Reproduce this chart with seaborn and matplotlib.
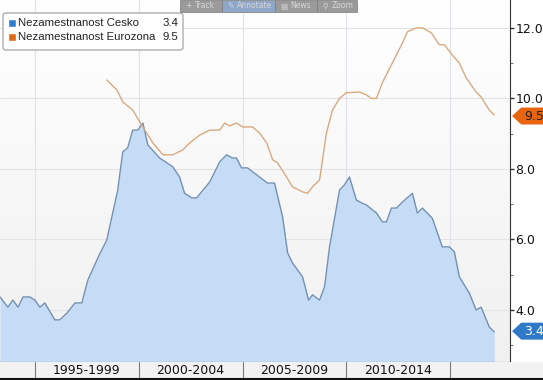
import numpy as np
import pandas as pd
import matplotlib
matplotlib.use('Agg')
import matplotlib.pyplot as plt
import seaborn as sns
from matplotlib.patches import Polygon, Rectangle, FancyBboxPatch
from matplotlib.colors import LinearSegmentedColormap
from matplotlib.transforms import blended_transform_factory

# Nezamestnanost Cesko (unemployment, %)
cz_year = [1993.32, 1993.70, 1993.94, 1994.19, 1994.43, 1994.76, 1995.00, 1995.24, 1995.48,
           1995.96, 1996.20, 1996.54, 1996.93, 1997.26, 1997.55, 1998.13, 1998.46, 1998.99,
           1999.23, 1999.47, 1999.71, 1999.95, 2000.20, 2000.44, 2001.01, 2001.64, 2001.97,
           2002.21, 2002.55, 2002.79, 2003.42, 2003.90, 2004.23, 2004.52, 2004.71, 2004.95,
           2005.24, 2005.82, 2006.20, 2006.54, 2006.93, 2007.17, 2007.41, 2007.89, 2008.18,
           2008.37, 2008.71, 2008.95, 2009.19, 2009.67, 2009.91, 2010.15, 2010.48, 2010.72,
           2010.96, 2011.45, 2011.73, 2011.93, 2012.17, 2012.41, 2012.70, 2013.18, 2013.42,
           2013.66, 2014.14, 2014.62, 2014.96, 2015.20, 2015.44, 2015.92, 2016.25, 2016.49,
           2016.88, 2017.12]
cz_value = [4.37, 4.08, 4.28, 4.08, 4.37, 4.37, 4.28, 4.08, 4.20,
            3.72, 3.72, 3.91, 4.20, 4.20, 4.85, 5.60, 5.98, 7.40,
            8.48, 8.60, 9.10, 9.10, 9.30, 8.68, 8.31, 8.06, 7.77,
            7.31, 7.18, 7.18, 7.63, 8.20, 8.40, 8.31, 8.31, 8.03,
            8.03, 7.77, 7.60, 7.60, 6.64, 5.62, 5.33, 4.94, 4.28,
            4.43, 4.28, 4.66, 5.79, 7.40, 7.55, 7.77, 7.12, 7.04,
            6.98, 6.75, 6.50, 6.50, 6.89, 6.89, 7.06, 7.31, 6.75,
            6.89, 6.60, 5.79, 5.79, 5.65, 4.94, 4.48, 4.00, 4.08,
            3.52, 3.38]

# Nezamestnanost Eurozona (unemployment, %)
ez_year = [1998.46, 1998.95, 1999.23, 1999.71, 2000.05, 2000.68, 2001.16, 2001.64, 2002.12,
           2002.46, 2002.94, 2003.42, 2003.90, 2004.14, 2004.38, 2004.71, 2005.00, 2005.48,
           2005.82, 2005.96, 2006.16, 2006.45, 2006.69, 2007.12, 2007.41, 2007.89, 2008.13,
           2008.37, 2008.71, 2009.04, 2009.33, 2009.67, 2010.00, 2010.63, 2010.96, 2011.20,
           2011.45, 2011.73, 2012.21, 2012.70, 2012.94, 2013.37, 2013.66, 2014.09, 2014.48,
           2014.72, 2015.10, 2015.44, 2015.77, 2016.25, 2016.49, 2016.88, 2017.12]
ez_value = [10.52, 10.24, 9.90, 9.67, 9.33, 8.74, 8.40, 8.40, 8.54,
            8.74, 8.96, 9.10, 9.10, 9.30, 9.22, 9.30, 9.19, 9.19,
            9.02, 8.90, 8.74, 8.26, 8.17, 7.77, 7.49, 7.35, 7.31,
            7.49, 7.69, 9.02, 9.67, 10.00, 10.16, 10.18, 10.10, 10.00,
            10.00, 10.44, 11.00, 11.57, 11.89, 12.00, 12.00, 11.86, 11.52,
            11.52, 11.23, 11.00, 10.58, 10.18, 10.04, 9.67, 9.53]

period_labels = ['1995-1999', '2000-2004', '2005-2009', '2010-2014']
period_starts = [1995, 2000, 2005, 2010, 2015]
y_ticks = [4.0, 6.0, 8.0, 10.0, 12.0]
last_cz = 3.4
last_ez = 9.5

df_cz = pd.DataFrame({'year': cz_year, 'value': cz_value})
df_ez = pd.DataFrame({'year': ez_year, 'value': ez_value})

sns.set_style('white')
plt.rcParams['font.family'] = ['DejaVu Sans']

fig = plt.figure(figsize=(5.43, 3.80), dpi=100)
ax = fig.add_axes([0, 18 / 380, 510 / 543, 362 / 380])

x0, x1 = 1993.32, 2017.88
y0, y1 = 2.525, 12.79
ax.set_xlim(x0, x1)
ax.set_ylim(y0, y1)

# soft background gradient: white at the top, light grey at the bottom
grad = np.linspace(0, 1, 256).reshape(-1, 1)
bg_cmap = LinearSegmentedColormap.from_list('bg', ['#f0f0f0', '#ffffff'])
ax.imshow(grad, extent=[0, 1, 0, 1], origin='lower', transform=ax.transAxes, aspect='auto',
          cmap=bg_cmap, zorder=0)

for v in y_ticks:
    ax.axhline(v, color='#e4e4e4', lw=0.8, zorder=1)
for s in period_starts:
    ax.axvline(s, color='#e0e4ea', lw=0.8, zorder=1)

ax.fill_between(df_cz['year'], df_cz['value'], y0, color='#c4dcf5', lw=0, zorder=2)
sns.lineplot(data=df_cz, x='year', y='value', ax=ax, color='#7591b2', lw=1.0, zorder=3)
sns.lineplot(data=df_ez, x='year', y='value', ax=ax, color='#d9aa80', lw=1.0, zorder=3)

ax.set_xlabel('')
ax.set_ylabel('')
ax.set_xticks([])
ax.set_xticks(np.arange(1994, 2018), minor=True)
ax.tick_params(axis='x', which='minor', direction='in', length=3, color='#555555', bottom=True)

ax.yaxis.tick_right()
ax.set_yticks(y_ticks)
ax.set_yticklabels([f'{v:.1f}' for v in y_ticks])
ax.set_yticks([3, 5, 7, 9, 11], minor=True)
ax.tick_params(axis='y', which='major', direction='out', length=3, width=1, color='#333333',
               labelsize=9, pad=1, labelcolor='#111111', right=True)
ax.tick_params(axis='y', which='minor', direction='out', length=2, color='#555555', right=True)

for side in ['top', 'left']:
    ax.spines[side].set_visible(False)
ax.spines['right'].set_color('#333333')
ax.spines['bottom'].set_color('#444444')

# bottom period strip
strip = fig.add_axes([0, 0, 1, 18 / 380])
sx1 = x0 + (x1 - x0) * 543 / 510
strip.set_xlim(x0, sx1)
strip.set_ylim(0, 1)
strip.axis('off')
strip.add_patch(Rectangle((0, 0), 1, 1, transform=strip.transAxes, color='#f2f2f2', zorder=0))
for s in period_starts:
    strip.plot([s, s], [0.15, 1], color='#777777', lw=0.8)
for lab, s in zip(period_labels, period_starts):
    strip.text(s + 2.5, 0.5, lab, ha='center', va='center', fontsize=9, color='#111111')
strip.plot([x0, sx1], [0.06, 0.06], color='#111111', lw=1.5)

# value tags on the right axis
tr = blended_transform_factory(ax.transAxes, ax.transData)
h = 0.24
for val, fc, tc in [(last_cz, '#2f79c8', 'white'), (last_ez, '#e8640f', '#222222')]:
    pts = [(1.004, val), (1.022, val + h), (1.07, val + h), (1.07, val - h), (1.022, val - h)]
    ax.add_patch(Polygon(pts, closed=True, transform=tr, facecolor=fc, edgecolor='none',
                         clip_on=False, zorder=5))
    ax.text(1.027, val, f'{val:.1f}', transform=tr, ha='left', va='center', fontsize=9,
            color=tc, zorder=6, clip_on=False)

# toolbar at the top
tool = [('+', 'Track', 180, 222, '#9a9a9a'), ('✎', 'Annotate', 222, 275, '#8ea6c8'),
        ('▤', 'News', 275, 317, '#9a9a9a'), ('⚲', 'Zoom', 317, 357, '#9a9a9a')]
for icon, name, a, b, c in tool:
    fig.patches.append(Rectangle((a / 543, 1 - 12 / 380), (b - a) / 543, 12 / 380,
                                 transform=fig.transFigure, facecolor=c, edgecolor='#7a7a7a',
                                 lw=0.5, zorder=10))
    fig.text((a + 5) / 543, 1 - 6 / 380, icon, fontsize=5.5, color='#d8d8d8',
             va='center', ha='left', zorder=11)
    fig.text((a + 15) / 543, 1 - 6 / 380, name, fontsize=5.5, color='#d8d8d8',
             va='center', ha='left', zorder=11)

# legend box
fig.patches.append(FancyBboxPatch((3 / 543, 1 - 50 / 380), 180 / 543, 37 / 380,
                                  boxstyle='round,pad=0,rounding_size=0.006',
                                  transform=fig.transFigure, facecolor='white',
                                  edgecolor='#9a9a9a', lw=0.8, zorder=10))
for i, (name, val, c) in enumerate([('Nezamestnanost Cesko', last_cz, '#2f7fd0'),
                                    ('Nezamestnanost Eurozona', last_ez, '#e06a16')]):
    yy = 1 - (23 + i * 14) / 380
    fig.patches.append(Rectangle((8 / 543, yy - 4 / 380), 8 / 543, 8 / 380,
                                 transform=fig.transFigure, facecolor=c, zorder=11))
    fig.text(18 / 543, yy, name, fontsize=8.2, family=['Liberation Sans', 'DejaVu Sans'],
             color='#222222', va='center', ha='left', zorder=12)
    fig.text(178 / 543, yy, f'{val:.1f}', fontsize=8.2, family=['Liberation Sans', 'DejaVu Sans'],
             color='#222222', va='center', ha='right', zorder=12)

fig.savefig('out.png', dpi=100)
